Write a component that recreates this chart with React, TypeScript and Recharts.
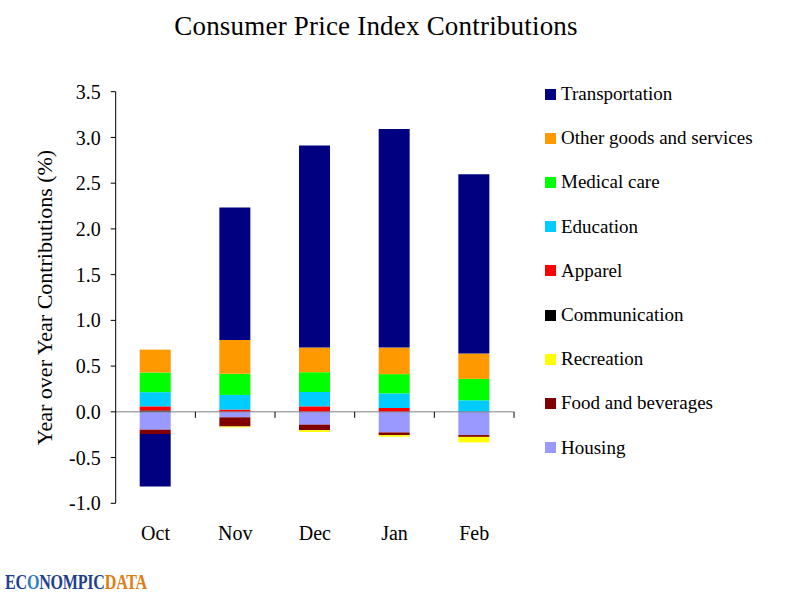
import React from 'react';
import { BarChart, Bar, XAxis, YAxis, ReferenceLine } from 'recharts';

const months = ['Oct', 'Nov', 'Dec', 'Jan', 'Feb'];
const housing = [-0.195, -0.06, -0.14, -0.225, -0.254];
const food = [-0.048, -0.1, -0.06, -0.03, -0.02];
const recreation = [0, -0.01, -0.02, -0.018, -0.06];
const communication = [0.015, 0, 0, 0, 0];
const apparel = [0.045, 0.025, 0.06, 0.042, 0];
const education = [0.155, 0.16, 0.157, 0.16, 0.126];
const medical = [0.215, 0.23, 0.216, 0.21, 0.234];
const other = [0.25, 0.37, 0.27, 0.29, 0.277];
const transportation = [-0.573, 1.45, 2.21, 2.39, 1.96];

const yTicks = [-1.0, -0.5, 0, 0.5, 1.0, 1.5, 2.0, 2.5, 3.0, 3.5];

// stacking order: first is closest to zero
const series = [
  { key: 'housing', name: 'Housing', color: '#9999FF', values: housing },
  { key: 'food', name: 'Food and beverages', color: '#800000', values: food },
  { key: 'recreation', name: 'Recreation', color: '#FFFF00', values: recreation },
  { key: 'communication', name: 'Communication', color: '#000000', values: communication },
  { key: 'apparel', name: 'Apparel', color: '#FF0000', values: apparel },
  { key: 'education', name: 'Education', color: '#00CCFF', values: education },
  { key: 'medical', name: 'Medical care', color: '#00FF00', values: medical },
  { key: 'other', name: 'Other goods and services', color: '#FF9900', values: other },
  { key: 'transportation', name: 'Transportation', color: '#000080', values: transportation },
];

const data = months.map((m, i) => {
  const row: Record<string, any> = { month: m };
  series.forEach((s) => (row[s.key] = s.values[i]));
  return row;
});

const FONT = '"Liberation Serif", "DejaVu Serif", serif';

const ZeroLine = (props: any) => {
  const { x1, y1, x2, y2 } = props;
  const n = months.length;
  const ticks = [];
  for (let i = 1; i <= n; i++) {
    const x = x1 + ((x2 - x1) * i) / n;
    ticks.push(<line key={i} x1={x} x2={x} y1={y1} y2={y1 + 6} stroke="#000" strokeWidth={1} />);
  }
  return (
    <g>
      <line x1={x1} y1={y1} x2={x2} y2={y2} stroke="#808080" strokeWidth={1} />
      {ticks}
    </g>
  );
};

const LegendBox = () => {
  const items = [...series].reverse();
  return (
    <div style={{ position: 'absolute', left: 545, top: 72, fontFamily: FONT, fontSize: 19, color: '#000' }}>
      {items.map((s) => (
        <div key={s.key} style={{ display: 'flex', alignItems: 'center', height: 44.2, whiteSpace: 'nowrap' }}>
          <span style={{ display: 'inline-block', width: 11, height: 11, background: s.color, marginRight: 5 }} />
          <span>{s.name}</span>
        </div>
      ))}
    </div>
  );
};

export default function App() {
  return (
    <div style={{ position: 'absolute', left: 0, top: 0, width: 800, height: 600, background: '#fff' }}>
      <div
        style={{
          position: 'absolute',
          left: 0,
          top: 11,
          width: 752,
          textAlign: 'center',
          fontFamily: FONT,
          fontSize: 27,
          color: '#000',
          letterSpacing: 0.2,
        }}
      >
        Consumer Price Index Contributions
      </div>
      <BarChart
        width={800}
        height={600}
        data={data}
        stackOffset="sign"
        barSize={31}
        margin={{ top: 91.7, right: 286, left: 0, bottom: 56.7 }}
      >
        <XAxis
          dataKey="month"
          axisLine={false}
          tickLine={false}
          tickSize={0}
          tickMargin={22}
          height={40}
          tick={{ fontFamily: FONT, fontSize: 20, fill: '#000' }}
        />
        <YAxis
          width={115.7}
          domain={[-1, 3.5]}
          ticks={yTicks}
          interval={0}
          tickFormatter={(v: number) => v.toFixed(1)}
          axisLine={{ stroke: '#000' }}
          tickLine={{ stroke: '#000' }}
          tickSize={5}
          tickMargin={10}
          tick={{ fontFamily: FONT, fontSize: 20, fill: '#000' }}
          label={{
            value: 'Year over Year Contributions (%)',
            angle: -90,
            position: 'insideLeft',
            offset: 44,
            style: { textAnchor: 'middle', fontFamily: FONT, fontSize: 22, fill: '#000' },
          }}
        />
        {series.map((s) => (
          <Bar key={s.key} dataKey={s.key} name={s.name} stackId="a" fill={s.color} isAnimationActive={false} />
        ))}
        <ReferenceLine y={0} shape={<ZeroLine />} />
      </BarChart>
      <LegendBox />
      <div
        style={{
          position: 'absolute',
          left: 5,
          top: 571,
          fontFamily: FONT,
          fontWeight: 'bold',
          fontSize: 22,
          lineHeight: '22px',
          letterSpacing: -0.3,
          transform: 'scaleX(0.73)',
          transformOrigin: 'left top',
          whiteSpace: 'nowrap',
        }}
      >
        <span style={{ color: '#1F3F8F' }}>EC</span>
        <span style={{ color: '#2E7FC0' }}>O</span>
        <span style={{ color: '#1F3F8F' }}>NOMPIC</span>
        <span style={{ color: '#E07B10' }}>DATA</span>
      </div>
    </div>
  );
}
